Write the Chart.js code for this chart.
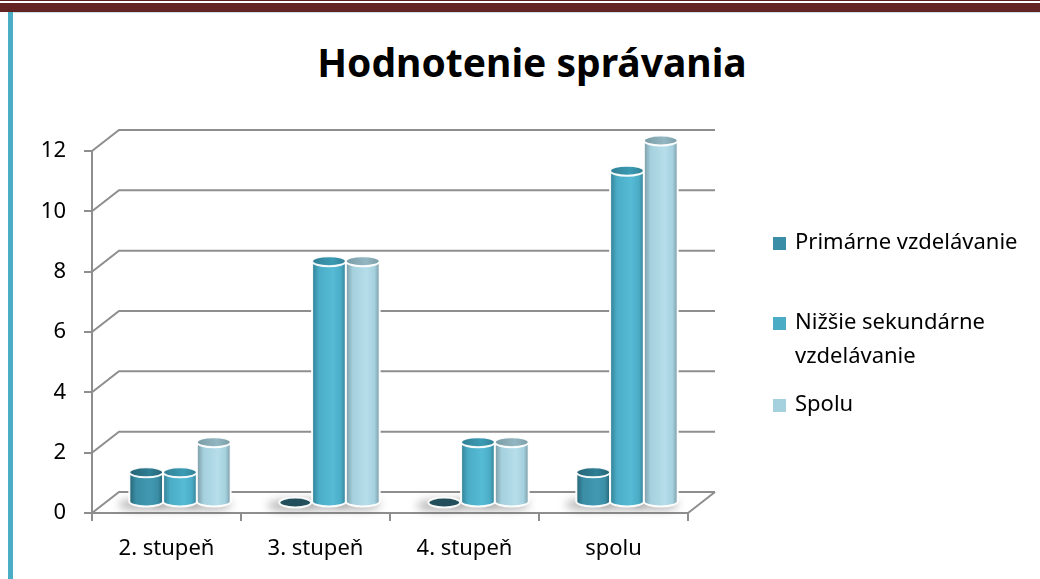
<!DOCTYPE html>
<html lang="sk">
<head>
<meta charset="utf-8">
<title>Hodnotenie správania</title>
<script src="https://cdn.jsdelivr.net/npm/chart.js@4/dist/chart.umd.min.js"></script>
<style>
  html, body { margin: 0; padding: 0; background: #fff; }
  #page { position: relative; width: 1040px; height: 579px; overflow: hidden; background: #fff; }
  .band-top1 { position: absolute; left: 0; top: 0; width: 1040px; height: 1px; background: #5a1f1f; }
  .band-top2 { position: absolute; left: 0; top: 3px; width: 1040px; height: 9px; background: #632423; }
  .band-line { position: absolute; left: 8px; top: 12px; width: 1032px; height: 1px; background: #c4e2ea; }
  .band-left { position: absolute; left: 8px; top: 12px; width: 5px; height: 567px; background: #4bacc6; }
  #titul { position: absolute; left: 0; top: 35px; width: 1064px; text-align: center;
           font: 700 39px "Noto Sans", sans-serif; color: #000; line-height: 54px; }
  #graf { position: absolute; left: 0; top: 0; }
</style>
</head>
<body>
<div id="page">
  <div class="band-top1"></div>
  <div class="band-top2"></div>
  <div class="band-line"></div>
  <div class="band-left"></div>
  <div id="titul">Hodnotenie správania</div>
  <canvas id="graf" width="1040" height="579"></canvas>
</div>
<script>
// Hodnotenie správania — 3D valcový stĺpcový graf

const kategorie = ["2. stupeň", "3. stupeň", "4. stupeň", "spolu"];
const primarne  = [1, 0, 0, 1];
const nizsie    = [1, 8, 2, 11];
const spolu     = [2, 8, 2, 12];
const serie     = ["Primárne vzdelávanie", ["Nižšie sekundárne", "vzdelávanie"], "Spolu"];

const COLORS = {
  primarne: { base: "#3a8ea6", dark: "#256273", light: "#4199b1", top: "#2f7f95", flat: "#234f5c" },
  nizsie:   { base: "#4bacc6", dark: "#317f94", light: "#56bbd5", top: "#3b9bb4", flat: "#2c6d80" },
  spolu:    { base: "#a5d0dd", dark: "#7a9ba6", light: "#b6deea", top: "#93b7c2", flat: "#7d9ea8" },
};
const SERIE_COLORS = [COLORS.primarne, COLORS.nizsie, COLORS.spolu];

const GRID = "#8e8e8e";
const DX = 27, DY = -21;        // hĺbka 3D scény
const FONT = "'Noto Sans', sans-serif";

const scena3d = {
  id: "scena3d",
  beforeDatasetsDraw(chart) {
    const { ctx, chartArea: a, scales: { y } } = chart;
    ctx.save();
    ctx.strokeStyle = GRID;
    ctx.lineWidth = 2;
    // zadná stena + ľavá bočná stena
    y.ticks.forEach(t => {
      const py = y.getPixelForValue(t.value);
      ctx.beginPath();
      ctx.moveTo(a.left, py);
      ctx.lineTo(a.left + DX, py + DY);
      ctx.lineTo(a.right + DX, py + DY);
      ctx.stroke();
    });
    // pravý okraj podlahy
    const p0 = y.getPixelForValue(0);
    ctx.beginPath();
    ctx.moveTo(a.right, p0);
    ctx.lineTo(a.right + DX, p0 + DY);
    ctx.stroke();
    ctx.restore();
  },
  afterDatasetsDraw(chart) {
    const { ctx } = chart;
    const metas = chart.data.datasets.map((_, i) => chart.getDatasetMeta(i));
    ctx.save();
    // tiene na podlahe
    kategorie.forEach((_, j) => {
      metas.forEach(m => {
        const el = m.data[j];
        const x = el.x + DX / 2, b = el.base + DY / 2;
        ctx.save();
        ctx.filter = "blur(4px)";
        ctx.fillStyle = "rgba(80,80,80,0.4)";
        ctx.beginPath();
        ctx.ellipse(x - 5, b + 3, el.width / 2 + 6, 6, 0, 0, Math.PI * 2);
        ctx.fill();
        ctx.restore();
      });
    });
    kategorie.forEach((_, j) => {
      metas.forEach((m, i) => {
        const el = m.data[j];
        const c = SERIE_COLORS[i];
        const x = el.x + DX / 2;
        const top = el.y + DY / 2;
        const base = el.base + DY / 2;
        const rx = el.width / 2, ry = 5;
        ctx.lineWidth = 2;
        ctx.strokeStyle = "rgba(255,255,255,0.95)";
        if (base - top < 1) {
          ctx.fillStyle = c.flat;
          ctx.beginPath();
          ctx.ellipse(x, base, rx - 1, ry, 0, 0, Math.PI * 2);
          ctx.fill();
          ctx.stroke();
          return;
        }
        const g = ctx.createLinearGradient(x - rx, 0, x + rx, 0);
        g.addColorStop(0, c.dark);
        g.addColorStop(0.2, c.base);
        g.addColorStop(0.62, c.light);
        g.addColorStop(0.85, c.base);
        g.addColorStop(1, c.dark);
        ctx.fillStyle = g;
        ctx.beginPath();
        ctx.moveTo(x - rx, top);
        ctx.lineTo(x - rx, base);
        ctx.ellipse(x, base, rx, ry, 0, Math.PI, 0, true);
        ctx.lineTo(x + rx, top);
        ctx.closePath();
        ctx.fill();
        ctx.stroke();
        const gt = ctx.createLinearGradient(x - rx, 0, x + rx, 0);
        gt.addColorStop(0, c.dark);
        gt.addColorStop(0.6, c.top);
        gt.addColorStop(1, c.dark);
        ctx.fillStyle = gt;
        ctx.beginPath();
        ctx.ellipse(x, top, rx, ry, 0, 0, Math.PI * 2);
        ctx.fill();
        ctx.stroke();
      });
    });
    ctx.restore();
  },
  afterDraw(chart) {
    // legenda vpravo
    const { ctx } = chart;
    const riadky = [[243], [323, 357], [405]];
    ctx.save();
    ctx.font = "22px " + FONT;
    ctx.textBaseline = "middle";
    serie.forEach((s, i) => {
      const texty = Array.isArray(s) ? s : [s];
      const y0 = riadky[i][0];
      ctx.fillStyle = SERIE_COLORS[i].base;
      ctx.fillRect(773, y0 - 6, 13, 13);
      ctx.fillStyle = "#000";
      texty.forEach((t, k) => ctx.fillText(t, 795, riadky[i][k]));
    });
    ctx.restore();
  },
};

const ds = (label, data) => ({
  label: Array.isArray(label) ? label.join(" ") : label,
  data,
  backgroundColor: "rgba(0,0,0,0)",
  borderWidth: 0,
  categoryPercentage: 0.68,
  barPercentage: 1.0,
});

new Chart(document.getElementById("graf"), {
  type: "bar",
  data: {
    labels: kategorie,
    datasets: [
      ds(serie[0], primarne),
      ds(serie[1], nizsie),
      ds(serie[2], spolu),
    ],
  },
  options: {
    responsive: false,
    animation: false,
    layout: { padding: { left: 30, right: 352, top: 151, bottom: 0 } },
    plugins: { legend: { display: false }, title: { display: false }, tooltip: { enabled: false } },
    scales: {
      x: {
        afterFit: s => { s.height = 66; },
        grid: { drawOnChartArea: false, color: GRID, lineWidth: 2, tickLength: 8, offset: true },
        border: { color: GRID, width: 2 },
        ticks: { color: "#000", font: { family: FONT, size: 22 }, padding: 15 },
      },
      y: {
        min: 0, max: 12,
        afterFit: s => { s.width = 62; },
        grid: { drawOnChartArea: false, color: GRID, lineWidth: 2, tickLength: 8 },
        border: { color: GRID, width: 2 },
        ticks: { stepSize: 2, color: "#000", font: { family: FONT, size: 22 }, padding: 18 },
      },
    },
  },
  plugins: [scena3d],
});
</script>
</body>
</html>
